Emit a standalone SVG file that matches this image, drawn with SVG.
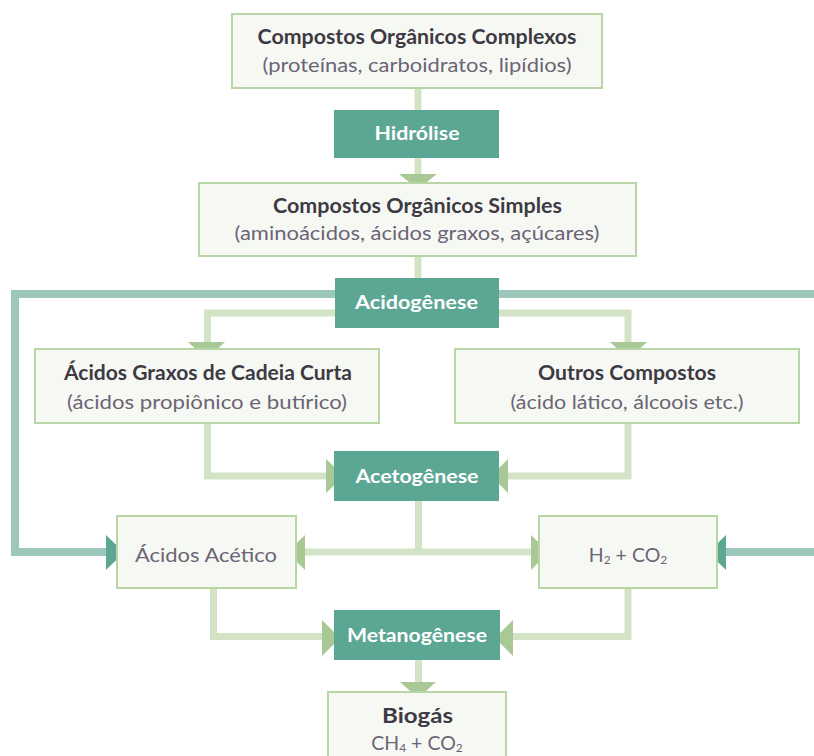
<svg xmlns="http://www.w3.org/2000/svg" width="814" height="756" viewBox="0 0 814 756">
<defs>
<style>
.box{fill:#f6f9f3;stroke:#b8d5a6;stroke-width:2}
.step{fill:#5ca694}
.ln{fill:none;stroke:#d2e3c6;stroke-width:7}
.fb{fill:none;stroke:#9cc7bb;stroke-width:8}
.ah{fill:#a8c896}
.ahT{fill:#5ca694}
text{font-family:Lato,"Open Sans","Liberation Sans",sans-serif;text-anchor:middle}
.t{font-weight:bold;font-size:20px;fill:#3e3a44}
.s{font-size:19.5px;fill:#6c6476}
.w{font-weight:bold;font-size:19px;fill:#ffffff}
</style>
</defs>
<rect width="814" height="756" fill="#ffffff"/>
<g id="connectors">
<path class="ln" d="M418 88V110"/>
<path class="ln" d="M418 158V176"/>
<polygon class="ah" points="399,174 437,174 418,189"/>
<path class="ln" d="M418 256V278"/>
<path class="fb" d="M335 294H15V552H108"/>
<path class="fb" d="M499 294H814"/>
<polygon class="ahT" points="106,535 124,552.5 106,570"/>
<path class="fb" d="M814 552H724"/>
<polygon class="ahT" points="726,535 708,552.5 726,570"/>
<path class="ln" d="M335 313H207.5V344"/>
<polygon class="ah" points="188,342 225,342 206.5,359"/>
<path class="ln" d="M499 313H628V344"/>
<polygon class="ah" points="610,342 647,342 628.5,359"/>
<path class="ln" d="M207.5 423V476H328"/>
<polygon class="ah" points="326,459 344,476 326,493"/>
<path class="ln" d="M628 423V476H506"/>
<polygon class="ah" points="508,459 491,476 508,493"/>
<path class="ln" d="M418.5 501V552"/>
<path class="ln" d="M303 552H533"/>
<polygon class="ah" points="305,535 287,552.5 305,570"/>
<polygon class="ah" points="531,535 549,552.5 531,570"/>
<path class="ln" d="M213.5 588V636.5H324"/>
<polygon class="ah" points="322,620 340,638 322,656"/>
<path class="ln" d="M628 588V636.5H511"/>
<polygon class="ah" points="513,620 495,638 513,656"/>
<path class="ln" d="M418.5 660V684"/>
<polygon class="ah" points="400,682 436,682 418,698"/>
</g>
<g id="n-complexos">
<rect class="box" x="232" y="14" width="370" height="74"/>
<text class="t" x="417" y="44" textLength="319" lengthAdjust="spacingAndGlyphs">Compostos Orgânicos Complexos</text>
<text class="s" x="417" y="72" textLength="309" lengthAdjust="spacingAndGlyphs">(proteínas, carboidratos, lipídios)</text>
</g>
<g id="n-hidrolise">
<rect class="step" x="334" y="110" width="165" height="48"/>
<text class="w" x="417" y="140" textLength="85" lengthAdjust="spacingAndGlyphs">Hidrólise</text>
</g>
<g id="n-simples">
<rect class="box" x="199" y="183" width="437" height="73"/>
<text class="t" x="417.5" y="213" textLength="289" lengthAdjust="spacingAndGlyphs">Compostos Orgânicos Simples</text>
<text class="s" x="417" y="240" textLength="365" lengthAdjust="spacingAndGlyphs">(aminoácidos, ácidos graxos, açúcares)</text>
</g>
<g id="n-acidogenese">
<rect class="step" x="335" y="278" width="164" height="50"/>
<text class="w" x="416.5" y="309" textLength="123" lengthAdjust="spacingAndGlyphs">Acidogênese</text>
</g>
<g id="n-graxos">
<rect class="box" x="35" y="349" width="344" height="74"/>
<text class="t" x="208" y="380" textLength="288" lengthAdjust="spacingAndGlyphs">Ácidos Graxos de Cadeia Curta</text>
<text class="s" x="207" y="409" textLength="280" lengthAdjust="spacingAndGlyphs">(ácidos propiônico e butírico)</text>
</g>
<g id="n-outros">
<rect class="box" x="455" y="349" width="344" height="74"/>
<text class="t" x="627" y="380" textLength="178" lengthAdjust="spacingAndGlyphs">Outros Compostos</text>
<text class="s" x="627" y="409" textLength="233" lengthAdjust="spacingAndGlyphs">(ácido lático, álcoois etc.)</text>
</g>
<g id="n-acetogenese">
<rect class="step" x="334" y="451" width="165" height="50"/>
<text class="w" x="417" y="483" textLength="123" lengthAdjust="spacingAndGlyphs">Acetogênese</text>
</g>
<g id="n-acetico">
<rect class="box" x="117" y="516" width="179" height="72"/>
<text class="s" x="206" y="562" textLength="142" lengthAdjust="spacingAndGlyphs">Ácidos Acético</text>
</g>
<g id="n-h2co2">
<rect class="box" x="539" y="516" width="178" height="72"/>
<text class="s" x="628" y="562" font-size="20">H<tspan font-size="12" dy="2">2</tspan><tspan dy="-2"> + CO</tspan><tspan font-size="12" dy="2">2</tspan></text>
</g>
<g id="n-metanogenese">
<rect class="step" x="334" y="610" width="166" height="50"/>
<text class="w" x="417" y="642" textLength="140" lengthAdjust="spacingAndGlyphs">Metanogênese</text>
</g>
<g id="n-biogas">
<rect class="box" x="328" y="692" width="178" height="70"/>
<text class="t" x="417.5" y="723" textLength="71" lengthAdjust="spacingAndGlyphs">Biogás</text>
<text class="s" x="417" y="750" font-size="21">CH<tspan font-size="12" dy="2">4</tspan><tspan dy="-2"> + CO</tspan><tspan font-size="12" dy="2">2</tspan></text>
</g>
</svg>
